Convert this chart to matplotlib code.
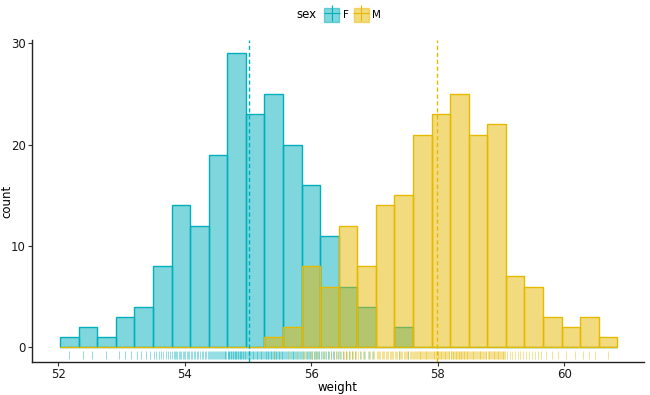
import numpy as np
import matplotlib
matplotlib.use("Agg")
import matplotlib.pyplot as plt
from matplotlib.patches import Patch
from matplotlib.lines import Line2D
from matplotlib.legend_handler import HandlerTuple
from matplotlib.offsetbox import HPacker

# histogram bins (30 bins)
bin_start = 52.03
bin_width = 0.2936
groups = ["F", "M"]
colors = {"F": "#00AFBB", "M": "#E7B800"}
means = {"F": 55.01, "M": 57.99}

count_F = [1, 2, 1, 3, 4, 8, 14, 12, 19, 29, 23, 25, 20, 16, 11, 6, 4, 0, 2, 0,
           0, 0, 0, 0, 0, 0, 0, 0, 0, 0]
count_M = [0, 0, 0, 0, 0, 0, 0, 0, 0, 0, 0, 1, 2, 8, 6, 12, 8, 14, 15, 21,
           23, 25, 21, 22, 7, 6, 3, 2, 3, 1]
counts = {"F": count_F, "M": count_M}

xticks = [52, 54, 56, 58, 60]
yticks = [0, 10, 20, 30]

edges = bin_start + bin_width * np.arange(len(count_F) + 1)

fig = plt.figure(figsize=(6.5, 3.95), dpi=100)
ax = fig.add_axes([32 / 650, 1 - 362 / 395, 612 / 650, 322 / 395])

for g in groups:
    ax.bar(edges[:-1], counts[g], width=bin_width, align="edge",
           color=colors[g], alpha=0.5, edgecolor="none")
    ax.bar(edges[:-1], counts[g], width=bin_width, align="edge",
           fill=False, edgecolor=colors[g], linewidth=1.0)
    ax.axvline(means[g], color=colors[g], linestyle=(0, (3, 2)), linewidth=1.0)

# rug: observations spread inside each bin
for g in groups:
    pts = []
    for i, c in enumerate(counts[g]):
        for k in range(c):
            pts.append(edges[i] + (k + 0.5) / c * bin_width * 0.98)
    ax.vlines(pts, 0.01, 0.035, transform=ax.get_xaxis_transform(),
              color=colors[g], linewidth=0.6, alpha=0.5)

ax.set_xlim(51.585, 61.26)
ax.set_ylim(-1.45, 30.33)
ax.set_xticks(xticks)
ax.set_yticks(yticks)
ax.tick_params(labelsize=8.5, length=3, width=0.8, pad=1.5,
               color="#333333", labelcolor="#1a1a1a")
for s in ["top", "right"]:
    ax.spines[s].set_visible(False)
for s in ["left", "bottom"]:
    ax.spines[s].set_linewidth(1.0)
    ax.spines[s].set_color("#222222")
ax.set_xlabel("weight", fontsize=8.5, labelpad=0)
ax.set_ylabel("count", fontsize=8.5)
ax.yaxis.set_label_coords(-19 / 612, 0.5)

handles = [(Patch(facecolor=colors[g], alpha=0.5, edgecolor=colors[g]),
            Line2D([], [], marker="+", markersize=12, markeredgewidth=0.8,
                   color=colors[g], linestyle="None"))
           for g in groups]
leg = fig.legend(handles, groups, loc="center", bbox_to_anchor=(339 / 650, 1 - 15 / 395),
                 ncol=2, frameon=False, fontsize=7.5, handlelength=1.5, handleheight=1.7,
                 handletextpad=0.3, columnspacing=0.5,
                 handler_map={tuple: HandlerTuple(ndivide=1)},
                 title="sex", title_fontsize=8.5)
# put title to the left of the keys
box = leg._legend_box
box.__class__ = HPacker
box.sep = 5
box.align = "center"

fig.savefig("out.png", dpi=100)
